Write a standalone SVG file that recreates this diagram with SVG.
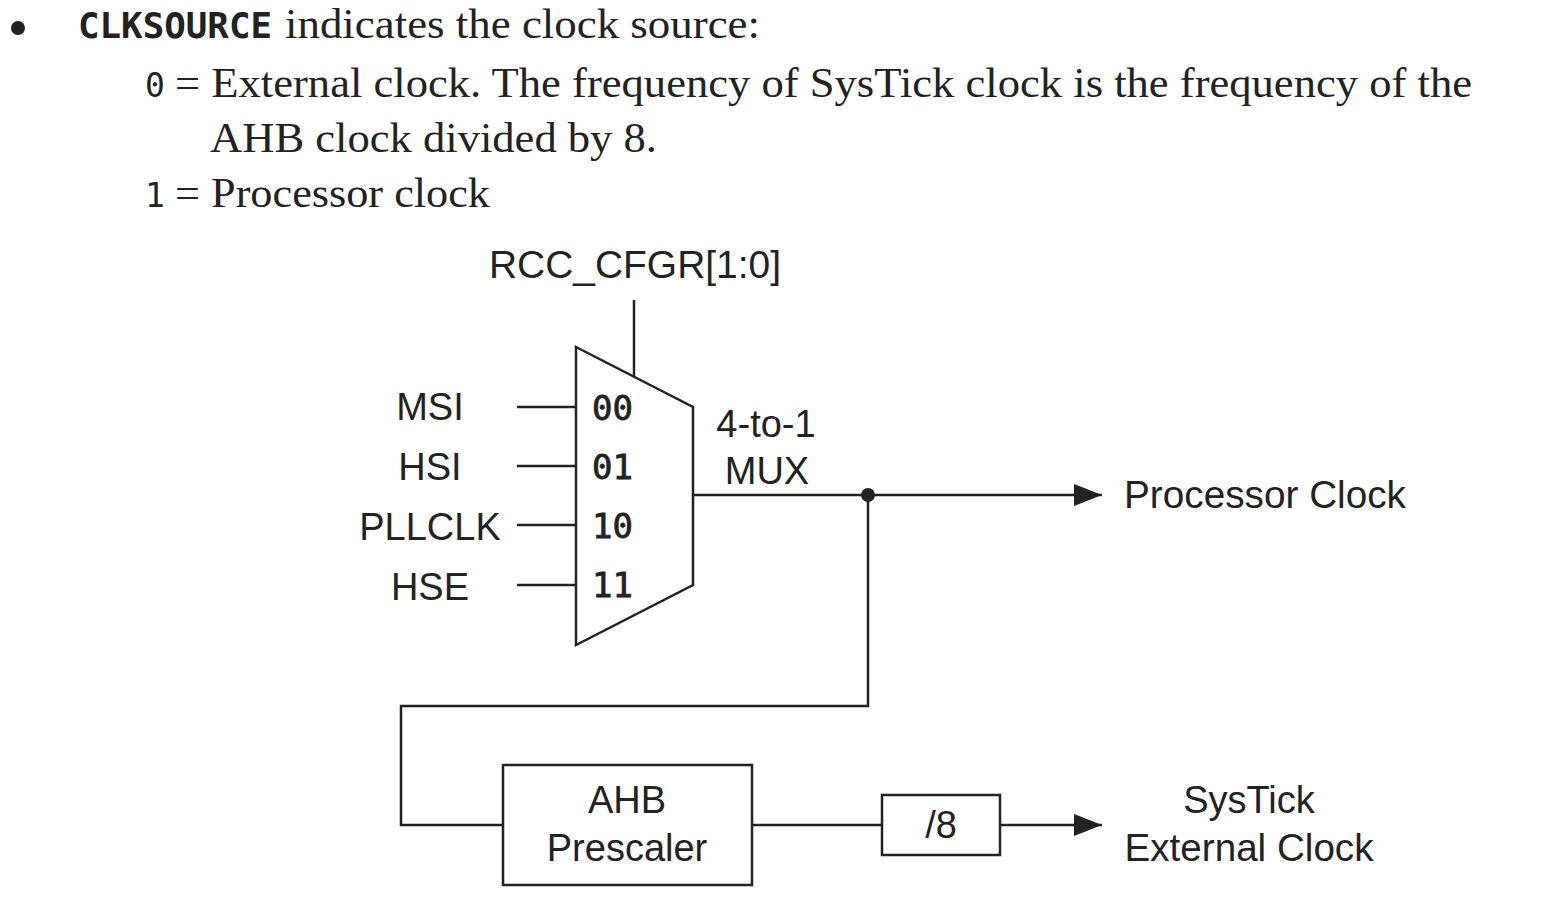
<svg xmlns="http://www.w3.org/2000/svg" width="1558" height="903" viewBox="0 0 1558 903">
<style>
.serif{font-family:"Liberation Serif","Times New Roman",serif;font-size:42px;fill:#222}
.mono{font-family:"DejaVu Sans Mono","Liberation Mono",monospace;fill:#222}
.sans{font-family:"Liberation Sans",Arial,sans-serif;font-size:38px;fill:#222}
.ln{stroke:#222;stroke-width:2.5;fill:none}
.box{stroke:#222;stroke-width:2.5;fill:#fff}
</style>
<defs>
<marker id="arr" markerUnits="userSpaceOnUse" markerWidth="30" markerHeight="24" refX="28" refY="11" orient="auto">
<polygon points="0,0 28,11 0,22" fill="#222"/>
</marker>
</defs>
<rect width="1558" height="903" fill="#fff"/>
<g id="caption">
<circle cx="18" cy="28" r="7" fill="#222"/>
<text x="78" y="38" class="mono" font-size="36" font-weight="bold" textLength="194" lengthAdjust="spacingAndGlyphs">CLKSOURCE</text>
<text x="285" y="38" class="serif" textLength="475" lengthAdjust="spacingAndGlyphs">indicates the clock source:</text>
<text x="145" y="97" class="mono" font-size="33">0</text>
<text x="175" y="97" class="serif" textLength="1297" lengthAdjust="spacingAndGlyphs">= External clock. The frequency of SysTick clock is the frequency of the</text>
<text x="210" y="152" class="serif" textLength="447" lengthAdjust="spacingAndGlyphs">AHB clock divided by 8.</text>
<text x="145" y="207" class="mono" font-size="33">1</text>
<text x="175" y="207" class="serif" textLength="315" lengthAdjust="spacingAndGlyphs">= Processor clock</text>
</g>
<g id="connectors">
<line class="ln" x1="634" y1="300" x2="634" y2="377"/>
<line class="ln" x1="517" y1="407" x2="576" y2="407"/>
<line class="ln" x1="517" y1="466" x2="576" y2="466"/>
<line class="ln" x1="517" y1="525" x2="576" y2="525"/>
<line class="ln" x1="517" y1="585" x2="576" y2="585"/>
<path class="ln" d="M693,495 H1102" marker-end="url(#arr)"/>
<path class="ln" d="M868,495 V706 H401 V825 H503"/>
<path class="ln" d="M752,825 H882"/>
<path class="ln" d="M1000,825 H1102" marker-end="url(#arr)"/>
<circle cx="868" cy="495" r="7" fill="#222"/>
</g>
<g id="rcc">
<text x="635" y="278" class="sans" text-anchor="middle" textLength="292" lengthAdjust="spacingAndGlyphs">RCC_CFGR[1:0]</text>
</g>
<g id="inputs">
<text x="430" y="420" class="sans" text-anchor="middle">MSI</text>
<text x="430" y="480" class="sans" text-anchor="middle">HSI</text>
<text x="430" y="540" class="sans" text-anchor="middle">PLLCLK</text>
<text x="430" y="600" class="sans" text-anchor="middle">HSE</text>
</g>
<g id="mux">
<polygon class="box" points="576,347 693,407 693,585 576,645"/>
<text x="592" y="420" class="mono" font-size="34" stroke="#222" stroke-width="0.8">00</text>
<text x="592" y="479" class="mono" font-size="34" stroke="#222" stroke-width="0.8">01</text>
<text x="592" y="538" class="mono" font-size="34" stroke="#222" stroke-width="0.8">10</text>
<text x="592" y="597" class="mono" font-size="34" stroke="#222" stroke-width="0.8">11</text>
<text x="766" y="437" class="sans" text-anchor="middle">4-to-1</text>
<text x="767" y="484" class="sans" text-anchor="middle">MUX</text>
</g>
<g id="processor-clock">
<text x="1124" y="508" class="sans" textLength="282" lengthAdjust="spacingAndGlyphs">Processor Clock</text>
</g>
<g id="ahb">
<rect class="box" x="503" y="765" width="249" height="120"/>
<text x="627" y="813" class="sans" text-anchor="middle">AHB</text>
<text x="627" y="861" class="sans" text-anchor="middle">Prescaler</text>
</g>
<g id="div8">
<rect class="box" x="882" y="795" width="118" height="60"/>
<text x="941" y="838" class="sans" text-anchor="middle">/8</text>
</g>
<g id="systick">
<text x="1249" y="813" class="sans" text-anchor="middle">SysTick</text>
<text x="1249" y="861" class="sans" text-anchor="middle" textLength="249" lengthAdjust="spacingAndGlyphs">External Clock</text>
</g>
</svg>
